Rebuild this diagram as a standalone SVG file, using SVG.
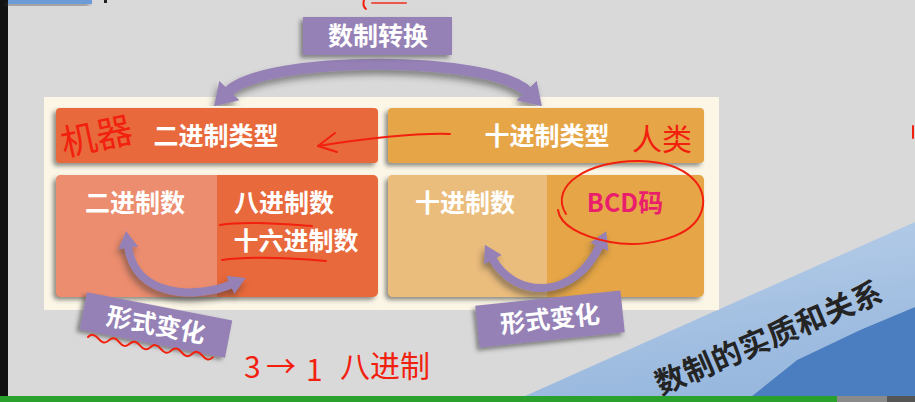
<svg xmlns="http://www.w3.org/2000/svg" width="915" height="402" viewBox="0 0 915 402">
  <defs>
    <style>
      .zh { font-family: "Noto Sans CJK SC", "Noto Sans", sans-serif; font-weight: 700; }
      .white { fill: #ffffff; }
      .lbl { font-size: 25px; text-anchor: middle; }
      .hand { font-family: "Noto Sans CJK SC", sans-serif; font-weight: 400; fill: #f2200e; }
      .ink { fill: none; stroke: #f2200e; stroke-width: 2; stroke-linecap: round; stroke-linejoin: round; }
      .purple { fill: #9581b6; }
      .flow { fill: none; stroke: #9581b6; }
    </style>
    <filter id="shadow" x="-20%" y="-30%" width="140%" height="170%">
      <feDropShadow dx="-3" dy="3" stdDeviation="2" flood-color="#3a3a3a" flood-opacity="0.55"/>
    </filter>
    <filter id="shadowSoft" x="-20%" y="-40%" width="140%" height="190%">
      <feDropShadow dx="-2" dy="5" stdDeviation="3" flood-color="#333" flood-opacity="0.5"/>
    </filter>
    <marker id="headBig" markerUnits="userSpaceOnUse" markerWidth="24" markerHeight="30" refX="2" refY="15" orient="auto-start-reverse">
      <path d="M0,1 L22,15 L0,29 Z" fill="#9581b6"/>
    </marker>
    <marker id="headSmall" markerUnits="userSpaceOnUse" markerWidth="18" markerHeight="22" refX="2" refY="11" orient="auto-start-reverse">
      <path d="M0,1 L17,11 L0,21 Z" fill="#9581b6"/>
    </marker>
    <linearGradient id="band" x1="0" y1="0" x2="0.35" y2="1">
      <stop offset="0" stop-color="#bcd1ea"/>
      <stop offset="1" stop-color="#98b8de"/>
    </linearGradient>
  </defs>

  <!-- page background -->
  <rect x="0" y="0" width="915" height="402" fill="#d9d9d9"/>
  <rect x="0" y="0" width="8" height="402" fill="#111"/>
  <rect x="8" y="0" width="84" height="4" fill="#6d9bd8" filter="url(#shadow)"/>
  <rect x="104" y="0" width="3" height="3" fill="#222"/>

  <!-- diagonal corner band -->
  <polygon points="525,396 915,222 915,307 860,330 797,360 752,396" fill="url(#band)"/>
  <path d="M752,396 L797,360 L860,330 L915,307 L915,396 Z" fill="#4a7ec1"/>
  <text class="zh" font-size="30" fill="#242424" text-anchor="middle" letter-spacing="0.5" transform="translate(769,338) rotate(-23)" x="0" y="10.5">数制的实质和关系</text>

  <!-- panel -->
  <rect id="panel" x="44" y="97" width="675" height="213" fill="#fbf6e6"/>

  <!-- binary side -->
  <g id="binary-type">
    <rect x="56" y="108" width="322" height="55" rx="4" fill="#e8693b" filter="url(#shadow)"/>
    <text class="zh white lbl" x="216" y="145">二进制类型</text>
  </g>
  <g id="binary-forms">
    <rect x="56" y="175" width="322" height="122" rx="5" fill="#e8693b" filter="url(#shadow)"/>
    <path d="M61,175 H217 V297 H61 A5,5 0 0 1 56,292 V180 A5,5 0 0 1 61,175 Z" fill="#ed8d6f"/>
    <text class="zh white lbl" x="135" y="212">二进制数</text>
    <text class="zh white lbl" x="284" y="212">八进制数</text>
    <text class="zh white lbl" x="296" y="250">十六进制数</text>
  </g>

  <!-- decimal side -->
  <g id="decimal-type">
    <rect x="388" y="108" width="316" height="55" rx="4" fill="#e6a646" filter="url(#shadow)"/>
    <text class="zh white lbl" x="547" y="145">十进制类型</text>
  </g>
  <g id="decimal-forms">
    <rect x="388" y="175" width="316" height="122" rx="5" fill="#e6a646" filter="url(#shadow)"/>
    <path d="M393,175 H547 V297 H393 A5,5 0 0 1 388,292 V180 A5,5 0 0 1 393,175 Z" fill="#ebbd7d"/>
    <text class="zh white lbl" x="465" y="212">十进制数</text>
    <text class="zh lbl" x="625" y="212" fill="#ea1f6c">BCD码</text>
  </g>

  <!-- connectors -->
  <g id="connectors">
    <path class="flow" d="M228,92 C264,55 492,55 528,92" stroke-width="11" marker-start="url(#headBig)" marker-end="url(#headBig)" filter="url(#shadowSoft)"/>
    <path class="flow" d="M128,246 C135,300 200,298 232,284" stroke-width="8" marker-start="url(#headSmall)" marker-end="url(#headSmall)" filter="url(#shadowSoft)"/>
    <path class="flow" d="M492,258 C515,300 575,300 600,245" stroke-width="8" marker-start="url(#headSmall)" marker-end="url(#headSmall)" filter="url(#shadowSoft)"/>
  </g>

  <!-- labels -->
  <g id="convert-label">
    <rect class="purple" x="303" y="17" width="149" height="38" filter="url(#shadow)"/>
    <text class="zh white lbl" x="378" y="45">数制转换</text>
  </g>
  <g id="form-label-left" transform="translate(156,325) rotate(11)">
    <rect class="purple" x="-74" y="-19" width="148" height="38" filter="url(#shadow)"/>
    <text class="zh white lbl" x="0" y="9">形式变化</text>
  </g>
  <g id="form-label-right" transform="translate(550,319) rotate(-6)">
    <rect class="purple" x="-73" y="-21" width="146" height="42" filter="url(#shadow)"/>
    <text class="zh white lbl" x="0" y="9">形式变化</text>
  </g>

  <!-- pen annotations -->
  <g id="annotations">
    <text class="hand" font-size="36" transform="rotate(-12,66,156)" x="64" y="156">机器</text>
    <text class="hand" font-size="30" x="632" y="150">人类</text>
    <path class="ink" d="M450,134 C420,133 370,138 318,146"/>
    <path class="ink" d="M335,133 L318,146 L337,152"/>
    <path class="ink" d="M220,225 C245,221 280,224 312,226"/>
    <path class="ink" d="M222,260 C250,256 290,258 326,261"/>
    <path class="ink" d="M566,214 C548,185 590,160 640,161 C690,162 712,190 700,215 C688,240 640,248 610,242 C580,236 560,225 558,210"/>
    <path class="ink" d="M88,337 q5.2,-5 10.4,1.7 t10.4,1.7 t10.4,1.7 t10.4,1.7 t10.4,1.7 t10.4,1.7 t10.4,1.7 t10.4,1.7 t10.4,1.7 t10.4,1.7 t10.4,1.7 t10.4,1.7"/>
    <text class="hand" font-size="30" x="244" y="378">3<tspan x="266" y="377">→</tspan><tspan x="306" y="381">1</tspan><tspan x="340" y="377">八进制</tspan></text>
    <path class="ink" d="M364,0 C363,4 363,7 366,9"/>
    <path class="ink" d="M372,3 L406,3" stroke-width="3" opacity="0.7"/>
    <path class="ink" d="M913,126 L913,138" stroke-width="3"/>
  </g>

  <!-- bottom status bar -->
  <rect x="0" y="396" width="837" height="6" fill="#2ba12d"/>
  <rect x="837" y="396" width="50" height="6" fill="#8a8a8a"/>
  <rect x="887" y="396" width="28" height="6" fill="#555"/>
</svg>
